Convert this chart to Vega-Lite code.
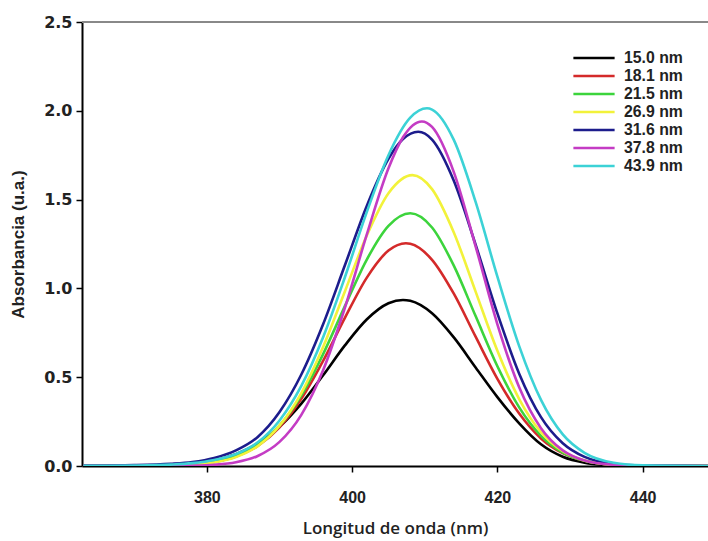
{
 "$schema": "https://vega.github.io/schema/vega-lite/v6.json",
 "width": 626,
 "height": 444,
 "autosize": {"type": "none"},
 "padding": {"left": 82, "top": 22, "right": 0, "bottom": 75},
 "background": "white",
 "config": {"view": {"stroke": null}, "font": "Liberation Sans"},
 "data": {"values": [
  {"s":"15.0 nm","x":363,"y":0},{"s":"15.0 nm","x":370,"y":0.001},{"s":"15.0 nm","x":375,"y":0.0056},{"s":"15.0 nm","x":378,"y":0.0139},{"s":"15.0 nm","x":381,"y":0.0318},{"s":"15.0 nm","x":384,"y":0.0664},{"s":"15.0 nm","x":387,"y":0.1265},{"s":"15.0 nm","x":390,"y":0.2204},{"s":"15.0 nm","x":393,"y":0.351},{"s":"15.0 nm","x":396,"y":0.5106},{"s":"15.0 nm","x":399,"y":0.679},{"s":"15.0 nm","x":402,"y":0.825},{"s":"15.0 nm","x":405,"y":0.9165},{"s":"15.0 nm","x":407,"y":0.935},{"s":"15.0 nm","x":408,"y":0.93},{"s":"15.0 nm","x":411,"y":0.86},{"s":"15.0 nm","x":414,"y":0.724},{"s":"15.0 nm","x":417,"y":0.555},{"s":"15.0 nm","x":420,"y":0.388},{"s":"15.0 nm","x":423,"y":0.24},{"s":"15.0 nm","x":426,"y":0.122},{"s":"15.0 nm","x":429,"y":0.052},{"s":"15.0 nm","x":432,"y":0.019},{"s":"15.0 nm","x":436,"y":0.004},{"s":"15.0 nm","x":440,"y":0.0008},{"s":"15.0 nm","x":449,"y":0},
  {"s":"18.1 nm","x":363,"y":0},{"s":"18.1 nm","x":370,"y":0.0004},{"s":"18.1 nm","x":375,"y":0.0029},{"s":"18.1 nm","x":378,"y":0.0085},{"s":"18.1 nm","x":381,"y":0.0223},{"s":"18.1 nm","x":384,"y":0.0529},{"s":"18.1 nm","x":387,"y":0.1131},{"s":"18.1 nm","x":390,"y":0.218},{"s":"18.1 nm","x":393,"y":0.378},{"s":"18.1 nm","x":396,"y":0.5915},{"s":"18.1 nm","x":399,"y":0.834},{"s":"18.1 nm","x":402,"y":1.0595},{"s":"18.1 nm","x":405,"y":1.213},{"s":"18.1 nm","x":407.4,"y":1.254},{"s":"18.1 nm","x":408,"y":1.251},{"s":"18.1 nm","x":411,"y":1.161},{"s":"18.1 nm","x":414,"y":0.97},{"s":"18.1 nm","x":417,"y":0.728},{"s":"18.1 nm","x":420,"y":0.491},{"s":"18.1 nm","x":423,"y":0.295},{"s":"18.1 nm","x":426,"y":0.155},{"s":"18.1 nm","x":429,"y":0.072},{"s":"18.1 nm","x":432,"y":0.029},{"s":"18.1 nm","x":436,"y":0.007},{"s":"18.1 nm","x":440,"y":0.0015},{"s":"18.1 nm","x":449,"y":0},
  {"s":"21.5 nm","x":363,"y":0},{"s":"21.5 nm","x":370,"y":0.0004},{"s":"21.5 nm","x":375,"y":0.003},{"s":"21.5 nm","x":378,"y":0.0087},{"s":"21.5 nm","x":381,"y":0.023},{"s":"21.5 nm","x":384,"y":0.0547},{"s":"21.5 nm","x":387,"y":0.1174},{"s":"21.5 nm","x":390,"y":0.2276},{"s":"21.5 nm","x":393,"y":0.398},{"s":"21.5 nm","x":396,"y":0.63},{"s":"21.5 nm","x":399,"y":0.9},{"s":"21.5 nm","x":402,"y":1.161},{"s":"21.5 nm","x":405,"y":1.352},{"s":"21.5 nm","x":408,"y":1.423},{"s":"21.5 nm","x":411,"y":1.343},{"s":"21.5 nm","x":414,"y":1.128},{"s":"21.5 nm","x":417,"y":0.844},{"s":"21.5 nm","x":420,"y":0.562},{"s":"21.5 nm","x":423,"y":0.33},{"s":"21.5 nm","x":426,"y":0.17},{"s":"21.5 nm","x":429,"y":0.076},{"s":"21.5 nm","x":432,"y":0.029},{"s":"21.5 nm","x":436,"y":0.0068},{"s":"21.5 nm","x":440,"y":0.0013},{"s":"21.5 nm","x":449,"y":0},
  {"s":"26.9 nm","x":363,"y":0},{"s":"26.9 nm","x":370,"y":0.0003},{"s":"26.9 nm","x":375,"y":0.0023},{"s":"26.9 nm","x":378,"y":0.0072},{"s":"26.9 nm","x":381,"y":0.02},{"s":"26.9 nm","x":384,"y":0.05},{"s":"26.9 nm","x":387,"y":0.112},{"s":"26.9 nm","x":390,"y":0.227},{"s":"26.9 nm","x":393,"y":0.411},{"s":"26.9 nm","x":396,"y":0.67},{"s":"26.9 nm","x":399,"y":0.983},{"s":"26.9 nm","x":402,"y":1.296},{"s":"26.9 nm","x":405,"y":1.536},{"s":"26.9 nm","x":408.3,"y":1.638},{"s":"26.9 nm","x":411,"y":1.559},{"s":"26.9 nm","x":414,"y":1.315},{"s":"26.9 nm","x":417,"y":0.982},{"s":"26.9 nm","x":420,"y":0.649},{"s":"26.9 nm","x":423,"y":0.377},{"s":"26.9 nm","x":426,"y":0.19},{"s":"26.9 nm","x":429,"y":0.083},{"s":"26.9 nm","x":432,"y":0.031},{"s":"26.9 nm","x":436,"y":0.0068},{"s":"26.9 nm","x":440,"y":0.0012},{"s":"26.9 nm","x":449,"y":0},
  {"s":"31.6 nm","x":363,"y":0.002},{"s":"31.6 nm","x":370,"y":0.005},{"s":"31.6 nm","x":375,"y":0.012},{"s":"31.6 nm","x":378,"y":0.022},{"s":"31.6 nm","x":381,"y":0.045},{"s":"31.6 nm","x":384,"y":0.088},{"s":"31.6 nm","x":387,"y":0.1637},{"s":"31.6 nm","x":390,"y":0.3038},{"s":"31.6 nm","x":393,"y":0.515},{"s":"31.6 nm","x":396,"y":0.798},{"s":"31.6 nm","x":399,"y":1.13},{"s":"31.6 nm","x":402,"y":1.463},{"s":"31.6 nm","x":405,"y":1.73},{"s":"31.6 nm","x":407,"y":1.841},{"s":"31.6 nm","x":409.1,"y":1.882},{"s":"31.6 nm","x":411,"y":1.838},{"s":"31.6 nm","x":414,"y":1.606},{"s":"31.6 nm","x":417,"y":1.246},{"s":"31.6 nm","x":420,"y":0.859},{"s":"31.6 nm","x":423,"y":0.52},{"s":"31.6 nm","x":426,"y":0.275},{"s":"31.6 nm","x":429,"y":0.128},{"s":"31.6 nm","x":432,"y":0.051},{"s":"31.6 nm","x":436,"y":0.0125},{"s":"31.6 nm","x":440,"y":0.0025},{"s":"31.6 nm","x":449,"y":0},
  {"s":"37.8 nm","x":363,"y":0},{"s":"37.8 nm","x":370,"y":0},{"s":"37.8 nm","x":375,"y":0.0005},{"s":"37.8 nm","x":378,"y":0.0019},{"s":"37.8 nm","x":381,"y":0.0068},{"s":"37.8 nm","x":384,"y":0.0208},{"s":"37.8 nm","x":387,"y":0.0566},{"s":"37.8 nm","x":390,"y":0.1358},{"s":"37.8 nm","x":393,"y":0.288},{"s":"37.8 nm","x":396,"y":0.539},{"s":"37.8 nm","x":399,"y":0.891},{"s":"37.8 nm","x":402,"y":1.301},{"s":"37.8 nm","x":405,"y":1.676},{"s":"37.8 nm","x":407,"y":1.851},{"s":"37.8 nm","x":409.6,"y":1.94},{"s":"37.8 nm","x":411,"y":1.909},{"s":"37.8 nm","x":414,"y":1.655},{"s":"37.8 nm","x":417,"y":1.237},{"s":"37.8 nm","x":420,"y":0.798},{"s":"37.8 nm","x":423,"y":0.443},{"s":"37.8 nm","x":426,"y":0.213},{"s":"37.8 nm","x":429,"y":0.088},{"s":"37.8 nm","x":432,"y":0.031},{"s":"37.8 nm","x":436,"y":0.0063},{"s":"37.8 nm","x":440,"y":0.001},{"s":"37.8 nm","x":449,"y":0},
  {"s":"43.9 nm","x":363,"y":0.001},{"s":"43.9 nm","x":370,"y":0.003},{"s":"43.9 nm","x":375,"y":0.008},{"s":"43.9 nm","x":378,"y":0.016},{"s":"43.9 nm","x":381,"y":0.034},{"s":"43.9 nm","x":384,"y":0.068},{"s":"43.9 nm","x":387,"y":0.1335},{"s":"43.9 nm","x":390,"y":0.2566},{"s":"43.9 nm","x":393,"y":0.451},{"s":"43.9 nm","x":396,"y":0.725},{"s":"43.9 nm","x":399,"y":1.063},{"s":"43.9 nm","x":402,"y":1.428},{"s":"43.9 nm","x":405,"y":1.75},{"s":"43.9 nm","x":408,"y":1.961},{"s":"43.9 nm","x":410.3,"y":2.014},{"s":"43.9 nm","x":411,"y":2.007},{"s":"43.9 nm","x":414,"y":1.836},{"s":"43.9 nm","x":417,"y":1.487},{"s":"43.9 nm","x":420,"y":1.066},{"s":"43.9 nm","x":423,"y":0.675},{"s":"43.9 nm","x":426,"y":0.372},{"s":"43.9 nm","x":429,"y":0.178},{"s":"43.9 nm","x":432,"y":0.074},{"s":"43.9 nm","x":436,"y":0.018},{"s":"43.9 nm","x":440,"y":0.0035},{"s":"43.9 nm","x":449,"y":0}
 ]},
 "layer": [
  {
   "mark": {"type": "rule", "color": "#888888", "strokeWidth": 1},
   "encoding": {"y": {"datum": 2.5}}
  },
  {
   "mark": {"type": "line", "interpolate": "monotone", "strokeWidth": 2.6, "clip": true},
   "encoding": {
    "x": {"field": "x", "type": "quantitative",
      "scale": {"domain": [362.8, 449], "nice": false, "zero": false},
      "axis": {"values": [380, 400, 420, 440], "title": "Longitud de onda (nm)", "grid": false,
        "domainColor": "#000000", "domainWidth": 2, "tickColor": "#000000", "tickSize": 6, "tickWidth": 1.5,
        "labelFont": "Liberation Sans", "labelFontWeight": "bold", "labelFontSize": 16, "labelColor": "#222222", "labelPadding": 17,
        "titleFont": "Open Sans", "titleFontWeight": 600, "titleFontSize": 17, "titleColor": "#222222",
        "titleY": 62, "titleBaseline": "middle"}},
    "y": {"field": "y", "type": "quantitative",
      "scale": {"domain": [0, 2.5], "nice": false},
      "axis": {"values": [0, 0.5, 1, 1.5, 2, 2.5], "format": ".1f", "title": "Absorbancia (u.a.)", "grid": false,
        "domainColor": "#000000", "domainWidth": 2, "tickColor": "#000000", "tickSize": 6, "tickWidth": 1.5,
        "labelFont": "DejaVu Sans", "labelFontWeight": "bold", "labelFontSize": 16, "labelColor": "#222222", "labelPadding": 4,
        "titleFont": "Liberation Sans", "titleFontWeight": "bold", "titleFontSize": 17, "titleColor": "#222222",
        "titleX": -64, "titleY": 222, "titleAngle": -90, "titleAlign": "center", "titleBaseline": "middle"}},
    "color": {"field": "s", "type": "nominal",
      "scale": {"domain": ["15.0 nm", "18.1 nm", "21.5 nm", "26.9 nm", "31.6 nm", "37.8 nm", "43.9 nm"],
        "range": ["#000000", "#d42a2a", "#3cd43c", "#f2f23a", "#1c1c8c", "#c43cc4", "#3cd2d6"]},
      "legend": {"orient": "none", "legendX": 502, "legendY": 26, "title": null,
        "symbolType": "M-2.5,0L2.5,0", "symbolSize": 272, "symbolStrokeWidth": 2.6,
        "labelFont": "Liberation Sans", "labelFontWeight": "bold", "labelFontSize": 15.8, "labelColor": "#222222",
        "rowPadding": 0, "labelOffset": 20}}
   }
  }
 ]
}
